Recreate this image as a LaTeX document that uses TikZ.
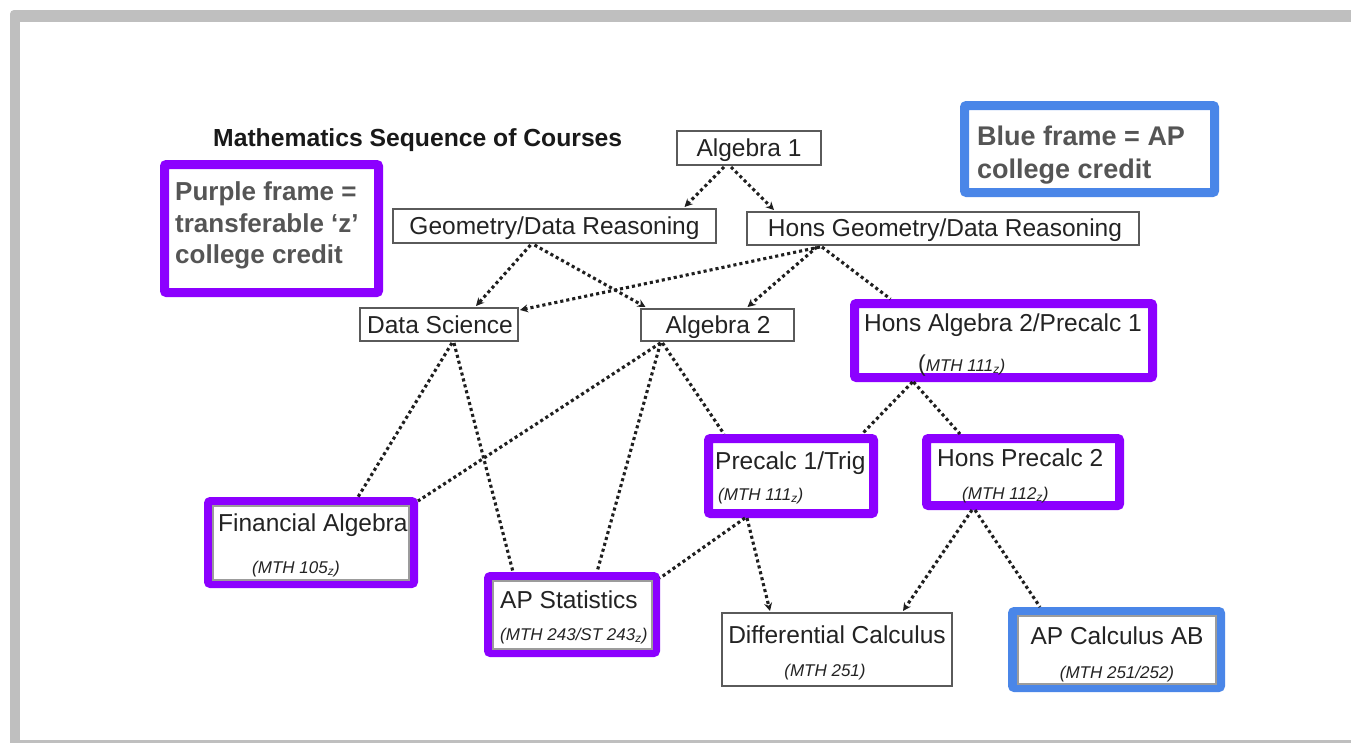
\documentclass[tikz,border=0pt]{standalone}
\usepackage{fontspec}
\setmainfont{Liberation Sans}
\usetikzlibrary{arrows.meta,calc}
\definecolor{zpurple}{RGB}{140,0,255}
\definecolor{apblue}{RGB}{74,134,232}
\definecolor{framegray}{RGB}{191,191,191}
\definecolor{boxgray}{RGB}{90,90,90}
\definecolor{txt}{RGB}{35,35,35}
\definecolor{legtxt}{RGB}{85,85,85}
\begin{document}
\begin{tikzpicture}[x=1pt,y=-1pt,
  thinbox/.style={draw=boxgray,line width=2,rectangle,inner sep=0,fill=white},
  zbox/.style={draw=zpurple,line width=9,rectangle,rounded corners=2,inner sep=0,fill=white},
  apbox/.style={draw=apblue,line width=9,rectangle,rounded corners=2,inner sep=0,fill=white},
  innerline/.style={draw=boxgray!60,line width=1.5},
  main/.style={font=\fontsize{24.5}{29}\selectfont,text=txt,inner sep=0},
  sub/.style={font=\fontsize{17}{20}\selectfont\itshape,text=txt,inner sep=0},
  legend/.style={font=\fontsize{26}{31}\selectfont\bfseries,text=legtxt,inner sep=0,anchor=base west},
  link/.style={draw=black!88,line width=3.1,dash pattern=on 3.1 off 3},
  tip/.style={-{Stealth[length=8,width=8]}}
]
\useasboundingbox (0,0) rectangle (1351,742);
\fill[framegray,rounded corners=4] (10,10) rectangle (1380,760);
\fill[white] (20,22) rectangle (1380,740);

% title
\node[font=\fontsize{24.7}{29}\selectfont\bfseries,text=black!90,inner sep=0,anchor=base west] (title) at (213,146) {Mathematics Sequence of Courses};

% legends
\node[zbox,minimum width=214,minimum height=128] (legz) at (271.5,228.5) {};
\node[legend] (legza) at (175,200) {Purple frame =};
\node[legend] (legzb) at (175,232) {transferable ‘z’};
\node[legend] (legzc) at (175,263) {college credit};
\node[apbox,minimum width=250,minimum height=87] (legap) at (1089.5,149) {};
\node[legend,font=\fontsize{27}{32}\selectfont\bfseries] (legapa) at (977,145) {Blue frame = AP};
\node[legend,font=\fontsize{27}{32}\selectfont\bfseries] (legapb) at (977,178) {college credit};

% course boxes
\node[thinbox,minimum width=144,minimum height=34] (alg1) at (749,148) {};
\node[main,anchor=base] (alg1t) at (749,156) {Algebra 1};

\node[thinbox,minimum width=323,minimum height=34] (geom) at (554.5,226) {};
\node[main,anchor=base] (geomt) at (554.5,234) {Geometry/Data Reasoning};

\node[thinbox,minimum width=392,minimum height=33] (hgeom) at (943,228.5) {};
\node[main,anchor=base] (hgeomt) at (945,236) {Hons Geometry/Data Reasoning};

\node[thinbox,minimum width=158,minimum height=33] (dsci) at (439,324.5) {};
\node[main,anchor=base] (dscit) at (440,333) {Data Science};

\node[thinbox,minimum width=153,minimum height=32] (alg2) at (717.5,325) {};
\node[main,anchor=base] (alg2t) at (718,333) {Algebra 2};

\node[zbox,minimum width=298,minimum height=74] (halg2) at (1003.5,340.5) {};
\node[main,anchor=base] (halg2t) at (1003,331) {Hons Algebra 2/Precalc 1};
\node[sub,anchor=base west] (halg2s) at (918,371) {{\upshape\fontsize{23}{26}\selectfont(}MTH 111\textsubscript{z})};

\node[zbox,minimum width=165,minimum height=75] (prec) at (791,476) {};
\node[main,anchor=base west] (prect) at (715,469) {Precalc 1/Trig};
\node[sub,anchor=base west] (precs) at (718,500) {(MTH 111\textsubscript{z})};

\node[zbox,minimum width=193,minimum height=67] (hprec) at (1023,472) {};
\node[main,anchor=base west] (hprect) at (937,466) {Hons Precalc 2};
\node[sub,anchor=base west] (hprecs) at (962,499) {(MTH 112\textsubscript{z})};

\node[zbox,minimum width=205,minimum height=82] (fin) at (311,542.5) {};
\draw[innerline] ($(fin.south west)+(9,-8)$) rectangle ($(fin.north east)+(-9,9)$);
\node[main,anchor=base west] (fint) at (218,531) {Financial Algebra};
\node[sub,anchor=base west] (fins) at (252,573) {(MTH 105\textsubscript{z})};

\node[zbox,minimum width=167,minimum height=76] (apst) at (572,614.5) {};
\draw[innerline] ($(apst.south west)+(9,-8)$) rectangle ($(apst.north east)+(-8,9)$);
\node[main,anchor=base west] (apstt) at (500,608) {AP Statistics};
\node[sub,anchor=base west] (apsts) at (500,640) {(MTH 243/ST 243\textsubscript{z})};

\node[thinbox,minimum width=230,minimum height=73] (diff) at (837,649.5) {};
\node[main,anchor=base] (difft) at (837,643) {Differential Calculus};
\node[sub,anchor=base] (diffs) at (825,676) {(MTH 251)};

\node[apbox,minimum width=208,minimum height=76] (apc) at (1116.5,649.5) {};
\draw[innerline] ($(apc.south west)+(10,-8)$) rectangle ($(apc.north east)+(-9,9)$);
\node[main,anchor=base] (apct) at (1117,644) {AP Calculus AB};
\node[sub,anchor=base] (apcs) at (1117,678) {(MTH 251/252)};

% connectors
\draw[link,tip] ($(alg1.south)+(-25,1)$) -- ($(geom.north)+(130,-1)$);
\draw[link,tip] ($(alg1.south)+(-18,1)$) -- ($(hgeom.north)+(-169,-1)$);
\draw[link,tip] ($(geom.south)+(-24,1)$) -- ($(dsci.north)+(37,-1)$);
\draw[link,tip] ($(geom.south)+(-20,1)$) -- ($(alg2.north)+(-72,-1)$);
\draw[link,tip] ($(hgeom.south)+(-123,1)$) -- ($(dsci.north east)+(1,3)$);
\draw[link,tip] ($(hgeom.south)+(-126,1)$) -- ($(alg2.north)+(30,-1)$);
\draw[link] ($(hgeom.south)+(-121,1)$) -- ($(halg2.north)+(-113,0)$);
\draw[link] ($(dsci.south)+(13,1)$) -- ($(fin.north)+(47,0)$);
\draw[link] ($(dsci.south)+(15,1)$) -- ($(apst.north)+(-59,0)$);
\draw[link] ($(alg2.south)+(-57,1)$) -- ($(fin.north east)+(0,4)$);
\draw[link] ($(alg2.south)+(-57,1)$) -- ($(apst.north)+(25,0)$);
\draw[link] ($(alg2.south)+(-55,1)$) -- ($(prec.north)+(-67,0)$);
\draw[link] ($(halg2.south)+(-91,0)$) -- ($(prec.north)+(71,0)$);
\draw[link] ($(halg2.south)+(-90,0)$) -- ($(hprec.north)+(-63,0)$);
\draw[link] ($(prec.south)+(-46,0)$) -- ($(apst.north east)+(0,6)$);
\draw[link,tip] ($(prec.south)+(-44,0)$) -- ($(diff.north)+(-67,-1)$);
\draw[link,tip] ($(hprec.south)+(-51,0)$) -- ($(diff.north)+(66,-1)$);
\draw[link] ($(hprec.south)+(-48,0)$) -- ($(apc.north)+(-76.5,0)$);
\end{tikzpicture}
\end{document}
